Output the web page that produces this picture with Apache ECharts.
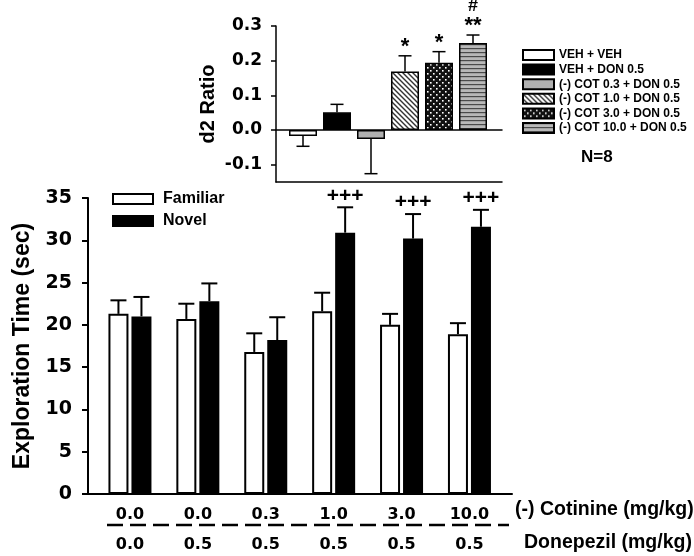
<!DOCTYPE html>
<html>
<head>
<meta charset="utf-8">
<script src="https://cdn.jsdelivr.net/npm/echarts@6/dist/echarts.min.js"></script>
<style>
html, body { margin: 0; padding: 0; background: #fff; }
#chart { width: 694px; height: 556px; }
</style>
</head>
<body>
<div id="chart"></div>
<script>
// main panel: exploration time per treatment group
var cotinineDose = ['0.0', '0.0', '0.3', '1.0', '3.0', '10.0'];
var donepezilDose = ['0.0', '0.5', '0.5', '0.5', '0.5', '0.5'];
var familiarMean = [21.3, 20.7, 16.8, 21.6, 20.0, 18.9];
var familiarSem = [1.6, 1.8, 2.2, 2.2, 1.3, 1.3];
var novelMean = [21.0, 22.8, 18.2, 30.9, 30.2, 31.6];
var novelSem = [2.3, 2.1, 2.7, 3.0, 2.9, 2.0];
var novelMarks = ['', '', '', '+++', '+++', '+++'];
var timeTicks = [0, 35, 5];

// inset: d2 ratio
var d2Groups = ['VEH + VEH', 'VEH + DON 0.5', '(-) COT 0.3 + DON 0.5', '(-) COT 1.0 + DON 0.5', '(-) COT 3.0 + DON 0.5', '(-) COT 10.0 + DON 0.5'];
var d2Mean = [-0.017, 0.051, -0.026, 0.169, 0.194, 0.251];
var d2Sem = [0.03, 0.023, 0.1, 0.045, 0.032, 0.023];
var d2Marks = ['', '', '', '*', '*', '**'];
var d2Hash = ['', '', '', '', '', '#'];
var d2Range = [-0.15, 0.3];

var ARIAL = 'Liberation Sans, Arial, sans-serif';
var DEJAVU = 'DejaVu Sans, sans-serif';

function makePattern(kind) {
	var c = document.createElement('canvas');
	var g = c.getContext('2d');
	if (kind === 'diag') {
		c.width = c.height = 5;
		g.fillStyle = '#fff';
		g.fillRect(0, 0, 5, 5);
		g.strokeStyle = '#333';
		g.lineWidth = 1.4;
		g.beginPath();
		g.moveTo(-1, -1); g.lineTo(6, 6);
		g.moveTo(-1, 4); g.lineTo(1, 6);
		g.moveTo(4, -1); g.lineTo(6, 1);
		g.stroke();
	} else if (kind === 'dots') {
		c.width = c.height = 6;
		g.fillStyle = '#111';
		g.fillRect(0, 0, 6, 6);
		g.fillStyle = '#fff';
		g.fillRect(1, 1, 1.6, 1.6);
		g.fillRect(4, 4, 1.6, 1.6);
	} else {
		c.width = 4; c.height = 4;
		g.fillStyle = '#b8b8b8';
		g.fillRect(0, 0, 4, 4);
		g.fillStyle = '#4a4a4a';
		g.fillRect(0, 0, 4, 1.2);
	}
	return { image: c, repeat: 'repeat' };
}

var d2Fills = ['#fff', '#000', '#b0b0b0', makePattern('diag'), makePattern('dots'), makePattern('hstripe')];

// marks: text right above the cap, extra: smaller text above that (optional)
function errorBar(offset, capHalf, lineWidth, marks, font, lift, extra) {
	return function (params, api) {
		var i = api.value(0);
		var mean = api.value(1);
		var sem = api.value(2);
		var dir = mean < 0 ? -1 : 1;
		var x = api.coord([i, 0])[0] + offset;
		var y0 = api.coord([i, mean])[1];
		var y1 = api.coord([i, mean + dir * sem])[1];
		var st = { stroke: '#000', lineWidth: lineWidth };
		var children = [
			{ type: 'line', shape: { x1: x, y1: y0, x2: x, y2: y1 }, style: st },
			{ type: 'line', shape: { x1: x - capHalf, y1: y1, x2: x + capHalf, y2: y1 }, style: st }
		];
		if (marks && marks[i]) {
			children.push({
				type: 'text',
				style: {
					x: x, y: y1 - lift, text: marks[i], fill: '#000',
					font: font, align: 'center', verticalAlign: 'bottom'
				}
			});
		}
		if (extra && extra[i]) {
			children.push({
				type: 'text',
				style: {
					x: x, y: y1 - 20, text: extra[i], fill: '#000',
					font: 'bold 18px ' + ARIAL, align: 'center', verticalAlign: 'bottom'
				}
			});
		}
		return { type: 'group', children: children };
	};
}

function rows(mean, sem) {
	var out = [];
	for (var i = 0; i < mean.length; i++) {
		out.push([i, mean[i], sem[i]]);
	}
	return out;
}

var hiddenAxis = { show: false };
var plainAxisLine = { show: true, onZero: false, lineStyle: { color: '#000', width: 2 } };

var series = [
	{
		name: 'Familiar', type: 'bar', xAxisIndex: 1, yAxisIndex: 1,
		data: familiarMean, barWidth: 20, barGap: '15%',
		itemStyle: { color: '#fff', borderColor: '#000', borderWidth: 2 }
	},
	{
		name: 'Novel', type: 'bar', xAxisIndex: 1, yAxisIndex: 1,
		data: novelMean, barWidth: 20, barGap: '15%',
		itemStyle: { color: '#000', borderColor: '#000', borderWidth: 2 }
	},
	{
		name: 'famErr', type: 'custom', xAxisIndex: 1, yAxisIndex: 1,
		data: rows(familiarMean, familiarSem), silent: true,
		renderItem: errorBar(-11.5, 8, 2)
	},
	{
		name: 'novErr', type: 'custom', xAxisIndex: 1, yAxisIndex: 1,
		data: rows(novelMean, novelSem), silent: true,
		renderItem: errorBar(11.5, 8, 2, novelMarks, 'bold 21px ' + ARIAL, 1)
	}
];

d2Groups.forEach(function (name, i) {
	var data = d2Mean.map(function (v, j) { return j === i ? v : '-'; });
	series.push({
		name: name, type: 'bar', xAxisIndex: 5, yAxisIndex: 3,
		data: data, barWidth: 28, barGap: '-100%',
		itemStyle: { color: d2Fills[i], borderColor: '#000', borderWidth: 1.5 }
	});
});

series.push({
	name: 'd2Err', type: 'custom', xAxisIndex: 5, yAxisIndex: 3,
	data: rows(d2Mean, d2Sem), silent: true,
	renderItem: errorBar(0, 6.5, 1.5, d2Marks, 'bold 22px ' + ARIAL, -2, d2Hash)
});

var option = {
	animation: false,
	backgroundColor: '#fff',
	textStyle: { fontFamily: ARIAL, color: '#000' },
	legend: [
		{
			data: ['Familiar', 'Novel'], orient: 'vertical', left: 112, top: 191, padding: 0,
			itemWidth: 40, itemHeight: 10, itemGap: 6, icon: 'rect',
			textStyle: { fontFamily: ARIAL, fontWeight: 'bold', fontSize: 16, color: '#000', padding: [0, 0, 0, 5] },
			selectedMode: false
		},
		{
			data: d2Groups, orient: 'vertical', left: 522, top: 49, padding: 0,
			itemWidth: 31, itemHeight: 10, itemGap: 2.6, icon: 'rect',
			textStyle: { fontFamily: ARIAL, fontWeight: 'bold', fontSize: 12, color: '#000' },
			selectedMode: false
		}
	],
	grid: [
		{ left: 88, width: 424, top: 198, height: 296 },
		{ left: 96, width: 407.4, top: 198, height: 296 },
		{ left: 276, width: 226, top: 26, height: 156 },
		{ left: 286, width: 204, top: 26, height: 156 }
	],
	xAxis: [
		{
			gridIndex: 0, type: 'value', min: 0, max: 1,
			axisLine: plainAxisLine, axisTick: hiddenAxis, axisLabel: hiddenAxis, splitLine: hiddenAxis
		},
		{
			gridIndex: 1, type: 'category', data: cotinineDose, position: 'bottom',
			axisLine: hiddenAxis, axisTick: hiddenAxis,
			axisLabel: { margin: 13, fontFamily: DEJAVU, fontWeight: 'bold', fontSize: 16, color: '#000' }
		},
		{
			gridIndex: 1, type: 'category', data: donepezilDose, position: 'bottom', offset: 30,
			axisLine: hiddenAxis, axisTick: hiddenAxis,
			axisLabel: { margin: 13, fontFamily: DEJAVU, fontWeight: 'bold', fontSize: 16, color: '#000' }
		},
		{
			gridIndex: 2, type: 'value', min: 0, max: 1, position: 'bottom',
			axisLine: { show: true, onZero: true, lineStyle: { color: '#000', width: 1.5 } },
			axisTick: hiddenAxis, axisLabel: hiddenAxis, splitLine: hiddenAxis
		},
		{
			gridIndex: 2, type: 'value', min: 0, max: 1, position: 'bottom',
			axisLine: { show: true, onZero: false, lineStyle: { color: '#000', width: 1.5 } },
			axisTick: hiddenAxis, axisLabel: hiddenAxis, splitLine: hiddenAxis
		},
		{
			gridIndex: 3, type: 'category', data: d2Groups,
			axisLine: hiddenAxis, axisTick: hiddenAxis, axisLabel: hiddenAxis
		}
	],
	yAxis: [
		{
			gridIndex: 0, type: 'value', min: timeTicks[0], max: timeTicks[1], interval: timeTicks[2],
			name: 'Exploration Time (sec)', nameLocation: 'middle', nameGap: 54,
			nameTextStyle: { fontFamily: ARIAL, fontWeight: 'bold', fontSize: 23, color: '#000' },
			axisLine: { show: true, lineStyle: { color: '#000', width: 2 } },
			axisTick: { show: true, length: 6, lineStyle: { color: '#000', width: 2 } },
			axisLabel: { margin: 16, fontFamily: DEJAVU, fontWeight: 'bold', fontSize: 19, color: '#000' },
			splitLine: hiddenAxis
		},
		{
			gridIndex: 1, type: 'value', min: timeTicks[0], max: timeTicks[1],
			show: false, splitLine: hiddenAxis
		},
		{
			gridIndex: 2, type: 'value', min: d2Range[0], max: d2Range[1],
			name: 'd2 Ratio', nameLocation: 'middle', nameGap: 58,
			nameTextStyle: { fontFamily: ARIAL, fontWeight: 'bold', fontSize: 20, color: '#000' },
			axisLine: { show: true, onZero: false, lineStyle: { color: '#000', width: 1.5 } },
			axisTick: { show: true, length: 5, lineStyle: { color: '#000', width: 1.5 } },
			axisLabel: {
				margin: 14, showMinLabel: false, fontFamily: DEJAVU, fontWeight: 'bold', fontSize: 17, color: '#000',
				formatter: function (v) { return v.toFixed(1); }
			},
			splitLine: hiddenAxis
		},
		{
			gridIndex: 3, type: 'value', min: d2Range[0], max: d2Range[1],
			show: false, splitLine: hiddenAxis
		}
	],
	graphic: [
		{
			type: 'line', silent: true,
			shape: { x1: 107, y1: 525, x2: 509, y2: 525 },
			style: { stroke: '#000', lineWidth: 2.5, lineDash: [16, 7] }
		},
		{
			type: 'text', left: 515, top: 500,
			style: { text: '(-) Cotinine (mg/kg)', font: 'bold 19.5px ' + ARIAL, fill: '#000' }
		},
		{
			type: 'text', left: 524, top: 533,
			style: { text: 'Donepezil (mg/kg)', font: 'bold 19.5px ' + ARIAL, fill: '#000' }
		},
		{
			type: 'text', left: 581, top: 149,
			style: { text: 'N=8', font: 'bold 17px ' + ARIAL, fill: '#000' }
		}
	],
	series: series
};

var chart = echarts.init(document.getElementById('chart'), null, { renderer: 'canvas' });
chart.setOption(option);
</script>
</body>
</html>
